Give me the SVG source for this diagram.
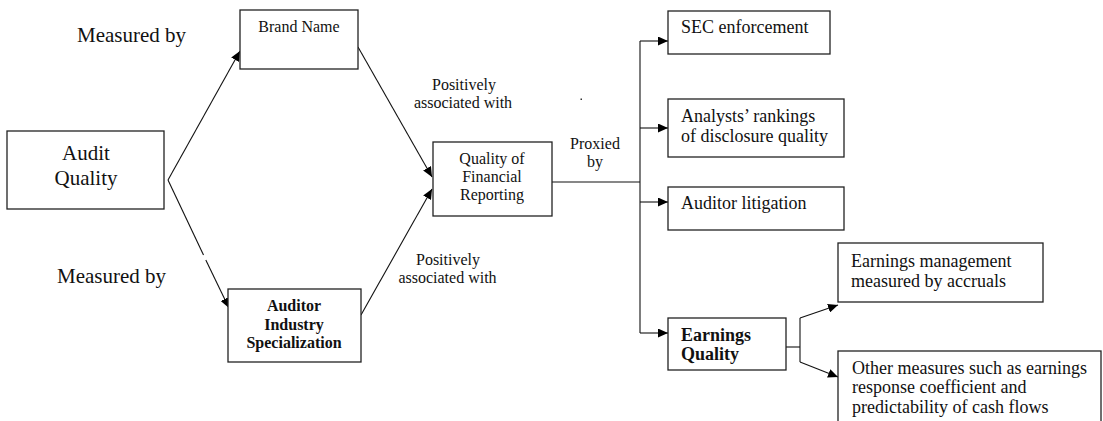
<svg xmlns="http://www.w3.org/2000/svg" width="1103" height="421" viewBox="0 0 1103 421">
<defs>
<marker id="arr" markerUnits="userSpaceOnUse" markerWidth="11" markerHeight="9" refX="10" refY="4.5" orient="auto">
<path d="M0,0 L10,4.5 L0,9 z" fill="#000"/>
</marker>
<style>
.box{fill:#fff;stroke:#222;stroke-width:1.3}
.t{font-family:"Liberation Serif","Times New Roman",serif;fill:#111}
.c{text-anchor:middle}
.b{font-weight:bold}
.ln{fill:none;stroke:#111;stroke-width:1.1}
.s16{font-size:16px}
.s18{font-size:18px}
.s21{font-size:21px}
</style>
</defs>
<rect width="1103" height="421" fill="#fff"/>

<g id="connectors">
<line class="ln" x1="168" y1="180" x2="240" y2="51" marker-end="url(#arr)"/>
<line class="ln" x1="168" y1="180" x2="203.5" y2="255"/>
<line class="ln" x1="205.8" y1="260" x2="229" y2="308" marker-end="url(#arr)"/>
<line class="ln" x1="358" y1="47" x2="432" y2="177" marker-end="url(#arr)"/>
<line class="ln" x1="361" y1="315" x2="432" y2="189" marker-end="url(#arr)"/>
<line class="ln" x1="552" y1="182" x2="640" y2="182"/>
<line class="ln" x1="640" y1="41" x2="640" y2="333"/>
<line class="ln" x1="640" y1="41" x2="668" y2="41" marker-end="url(#arr)"/>
<line class="ln" x1="640" y1="128" x2="668" y2="128" marker-end="url(#arr)"/>
<line class="ln" x1="640" y1="202" x2="668" y2="202" marker-end="url(#arr)"/>
<line class="ln" x1="640" y1="333" x2="668" y2="333" marker-end="url(#arr)"/>
<line class="ln" x1="786" y1="347" x2="800" y2="347"/>
<line class="ln" x1="800" y1="318" x2="800" y2="362"/>
<line class="ln" x1="800" y1="318" x2="838" y2="305" marker-end="url(#arr)"/>
<line class="ln" x1="800" y1="362" x2="838" y2="377" marker-end="url(#arr)"/>
</g>

<g id="labels">
<text class="t s21" x="77" y="42">Measured by</text>
<text class="t s21" x="57" y="283">Measured by</text>
<text class="t s16 c" x="464" y="90">Positively</text>
<text class="t s16 c" x="463" y="108">associated with</text>
<text class="t s16 c" x="448" y="265">Positively</text>
<text class="t s16 c" x="447.5" y="283">associated with</text>
<text class="t s16 c" x="595" y="149">Proxied</text>
<text class="t s16 c" x="595" y="167">by</text>
<rect x="580.5" y="98.5" width="1.5" height="1.5" fill="#333"/>
</g>

<g id="audit-quality">
<rect class="box" x="7" y="131" width="157" height="78"/>
<text class="t s21 c" x="86" y="160">Audit</text>
<text class="t s21 c" x="86" y="185">Quality</text>
</g>

<g id="brand-name">
<rect class="box" x="240" y="10" width="118" height="59"/>
<text class="t s16 c" x="299" y="32">Brand Name</text>
</g>

<g id="auditor-industry-specialization">
<rect class="box" x="228" y="289" width="133" height="73"/>
<text class="t s16 c b" x="294" y="311">Auditor</text>
<text class="t s16 c b" x="294" y="330">Industry</text>
<text class="t s16 c b" x="294" y="348">Specialization</text>
</g>

<g id="quality-financial-reporting">
<rect class="box" x="433" y="142" width="119" height="74"/>
<text class="t s16 c" x="492" y="164">Quality of</text>
<text class="t s16 c" x="492" y="182">Financial</text>
<text class="t s16 c" x="492" y="200">Reporting</text>
</g>

<g id="sec-enforcement">
<rect class="box" x="668" y="11" width="162" height="43"/>
<text class="t s18" x="681" y="33">SEC enforcement</text>
</g>

<g id="analysts-rankings">
<rect class="box" x="668" y="99" width="176" height="58"/>
<text class="t s18" x="681" y="122">Analysts’ rankings</text>
<text class="t s18" x="681" y="142">of disclosure quality</text>
</g>

<g id="auditor-litigation">
<rect class="box" x="668" y="187" width="176" height="43"/>
<text class="t s18" x="681" y="209">Auditor litigation</text>
</g>

<g id="earnings-quality">
<rect class="box" x="668" y="318" width="118" height="52"/>
<text class="t s18 b" x="681" y="341">Earnings</text>
<text class="t s18 b" x="681" y="360">Quality</text>
</g>

<g id="earnings-management">
<rect class="box" x="838" y="243" width="205" height="59"/>
<text class="t s18" x="851" y="267">Earnings management</text>
<text class="t s18" x="851" y="287">measured by accruals</text>
</g>

<g id="other-measures">
<rect class="box" x="838" y="351" width="263" height="90"/>
<text class="t s18" x="852" y="374">Other measures such as earnings</text>
<text class="t s18" x="852" y="393">response coefficient and</text>
<text class="t s18" x="852" y="413">predictability of cash flows</text>
</g>
</svg>
